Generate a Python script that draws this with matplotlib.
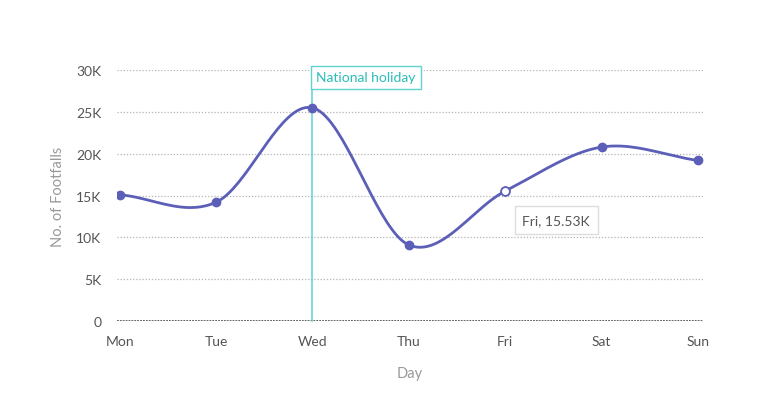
import numpy as np
import matplotlib
matplotlib.use("Agg")
import matplotlib.pyplot as plt

days = ["Mon", "Tue", "Wed", "Thu", "Fri", "Sat", "Sun"]
footfalls = [15.1, 14.2, 25.5, 9.1, 15.53, 20.8, 19.2]  # thousands
yticks = [0, 5, 10, 15, 20, 25, 30]
ytick_labels = ["0", "5K", "10K", "15K", "20K", "25K", "30K"]
holiday_day = "Wed"
hover_day = "Fri"

line_col = "#5b5fb7"
holiday_col = "#5fd3cf"
plt.rcParams['font.family'] = ['Lato', 'DejaVu Sans']


def catmull_rom(x, y, n=40):
    # smooth curve through the points (drawing only)
    x = np.asarray(x, float)
    y = np.asarray(y, float)
    px = np.concatenate([[2 * x[0] - x[1]], x, [2 * x[-1] - x[-2]]])
    py = np.concatenate([[2 * y[0] - y[1]], y, [2 * y[-1] - y[-2]]])
    xs, ys = [], []
    t = np.linspace(0, 1, n)
    for i in range(1, len(px) - 2):
        for p, out in ((px, xs), (py, ys)):
            p0, p1, p2, p3 = p[i - 1], p[i], p[i + 1], p[i + 2]
            out.extend(0.5 * (2 * p1 + (-p0 + p2) * t
                              + (2 * p0 - 5 * p1 + 4 * p2 - p3) * t ** 2
                              + (-p0 + 3 * p1 - 3 * p2 + p3) * t ** 3))
    return np.array(xs), np.array(ys)


fig = plt.figure(figsize=(7.68, 4.02), dpi=100)
ax = fig.add_axes([0.152, 0.199, 0.763, 0.624])

x = np.arange(len(days))
sx, sy = catmull_rom(x, footfalls)

# grid
for v in yticks[1:]:
    ax.axhline(v, color="#b5b5b5", lw=0.9, ls=(0, (1, 1.5)), zorder=0)
ax.axhline(0, color="#555555", lw=1.3, ls=(0, (1, 0.6)), zorder=1)

# holiday marker
hx = days.index(holiday_day)
ax.plot([hx, hx], [0, 30.3], color=holiday_col, lw=1.1, zorder=2, clip_on=False)
ax.text(hx + 0.04, 29.85, "National holiday", color="#2bbdb6", fontsize=10,
        ha="left", va="top", zorder=5,
        bbox=dict(boxstyle="square,pad=0.4", fc="white", ec=holiday_col, lw=1))

ax.plot(sx, sy, color=line_col, lw=2, zorder=3)
ax.scatter(x, footfalls, s=36, color=line_col, zorder=4)
fx = days.index(hover_day)
ax.scatter([fx], [footfalls[fx]], s=40, facecolor="white", edgecolor=line_col,
           lw=1.3, zorder=5)
ax.text(fx + 0.18, footfalls[fx] - 3.45, f"{hover_day}, {footfalls[fx]:.2f}K",
        fontsize=10, color="#555555", ha="left", va="center", zorder=6,
        bbox=dict(boxstyle="square,pad=0.55", fc="white", ec="#dddddd", lw=1))

ax.set_xlim(-0.03, 6.05)
ax.set_ylim(0, 30)
ax.set_xticks(x)
ax.set_xticklabels(days)
ax.set_yticks(yticks)
ax.set_yticklabels(ytick_labels)
ax.tick_params(length=0, labelsize=10, labelcolor="#555555")
ax.tick_params(axis="x", pad=10)
ax.tick_params(axis="y", pad=11)
for s in ax.spines.values():
    s.set_visible(False)

ax.set_xlabel("Day", color="#999999", fontsize=10.5, labelpad=14)
ax.set_ylabel("No. of Footfalls", color="#999999", fontsize=10.5, labelpad=8)

fig.savefig("out.png", dpi=100)
